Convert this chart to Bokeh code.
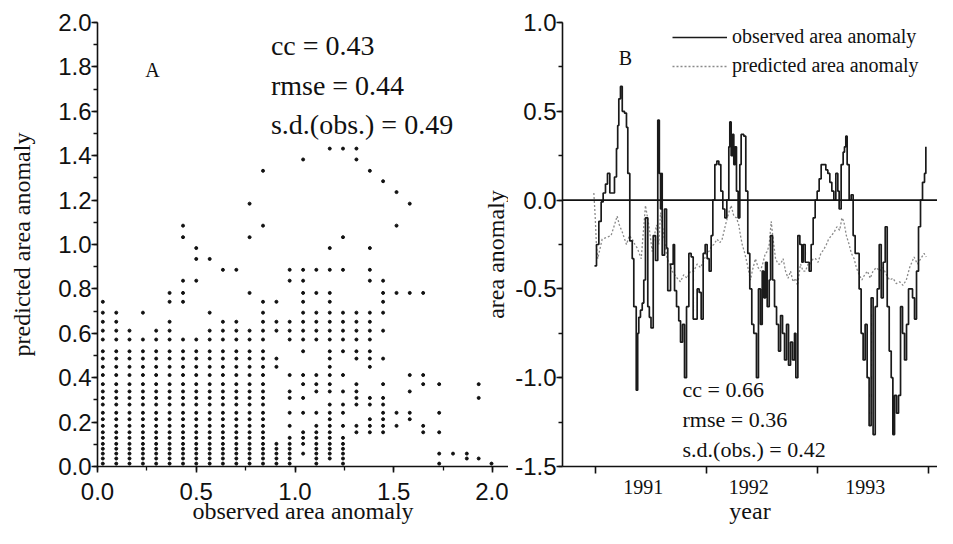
import numpy as np
from bokeh.plotting import figure
from bokeh.layouts import row
from bokeh.models import (Label, Span, SingleIntervalTicker, FixedTicker,
                          NumeralTickFormatter, Legend, LegendItem)
from bokeh.embed import file_html
from bokeh.resources import INLINE

# ---------------- Panel A data (scatter on a grid) ----------------
pred_levels = [0.013, 0.036, 0.058, 0.080, 0.102, 0.129, 0.154, 0.183, 0.213,
               0.242, 0.279, 0.309, 0.338, 0.371, 0.412, 0.449, 0.486, 0.519,
               0.572, 0.612, 0.652, 0.693, 0.742]

obs_cols = [0.027, 0.095, 0.162, 0.230, 0.297, 0.365, 0.433, 0.500, 0.568,
            0.635, 0.703, 0.770, 0.838, 0.906, 0.973, 1.041, 1.108, 1.176,
            1.243, 1.311, 1.379, 1.446, 1.514, 1.581, 1.649, 1.730, 1.800,
            1.870, 1.930, 1.995]

pred_cols = [
    pred_levels[:23],
    pred_levels[:22],
    pred_levels[:20],
    pred_levels[:19] + [0.693],
    pred_levels[:20],
    pred_levels[:21] + [0.742, 0.782],
    pred_levels[:19] + [0.742, 0.782, 0.837, 1.033, 1.085],
    pred_levels[:19] + [0.837, 0.935, 0.984],
    pred_levels[:20] + [0.693, 0.935],
    pred_levels[:21] + [0.886],
    pred_levels[:21] + [0.886],
    pred_levels[:20] + [0.782, 1.033, 1.184],
    pred_levels[:23] + [1.085, 1.332],
    [0.013, 0.036, 0.058, 0.080, 0.102, 0.449, 0.486, 0.612, 0.652, 0.742],
    [0.013, 0.036, 0.058, 0.080, 0.102, 0.129, 0.183, 0.242, 0.309, 0.338,
     0.412, 0.572, 0.612, 0.652, 0.837, 0.886],
    [0.058, 0.102, 0.129, 0.154, 0.242, 0.309, 0.371, 0.412, 0.519, 0.572,
     0.612, 0.652, 0.693, 0.742, 0.782, 0.837, 0.886, 1.383],
    [0.013, 0.036, 0.058, 0.080, 0.102, 0.129, 0.154, 0.183, 0.242, 0.338,
     0.371, 0.412, 0.572, 0.612, 0.652, 0.693, 0.782, 0.886],
    [0.036, 0.058, 0.080, 0.102, 0.129, 0.154, 0.183, 0.213, 0.242, 0.279,
     0.338, 0.371, 0.412, 0.449, 0.486, 0.519, 0.572, 0.612, 0.652, 0.693,
     0.742, 0.782, 0.886, 0.984, 1.432],
    [0.013, 0.036, 0.058, 0.080, 0.102, 0.129, 0.183, 0.242, 0.279, 0.338,
     0.412, 0.519, 0.572, 0.612, 0.652, 0.693, 0.886, 1.033, 1.432],
    [0.154, 0.183, 0.279, 0.309, 0.338, 0.371, 0.486, 0.519, 0.572, 0.612,
     0.652, 0.693, 1.383, 1.432],
    [0.154, 0.183, 0.213, 0.279, 0.309, 0.449, 0.486, 0.519, 0.572, 0.612,
     0.652, 0.693, 0.837, 0.886, 0.984, 1.332],
    [0.154, 0.183, 0.213, 0.242, 0.279, 0.309, 0.371, 0.486, 0.612, 0.693,
     0.742, 0.782, 0.837, 1.285],
    [0.183, 0.242, 0.782, 1.085, 1.236],
    [0.213, 0.242, 0.338, 0.412, 0.782, 1.184],
    [0.154, 0.183, 0.371, 0.412, 0.782],
    [0.013, 0.058, 0.154, 0.242, 0.371],
    [0.058],
    [0.036, 0.058],
    [0.036, 0.309, 0.371],
    [0.013],
]

stats_a = ["cc = 0.43", "rmse = 0.44", "s.d.(obs.) = 0.49"]
stats_a_y = [1.895, 1.715, 1.540]

# ---------------- Panel B data (time series) ----------------
obs_year = [1990.491, 1990.509, 1990.530, 1990.551, 1990.569, 1990.590, 1990.608,
            1990.629, 1990.650, 1990.671, 1990.689, 1990.700, 1990.710, 1990.725,
            1990.741, 1990.761, 1990.779, 1990.791, 1990.809, 1990.831, 1990.845,
            1990.867, 1990.880, 1990.890, 1990.905, 1990.921, 1990.935, 1990.950,
            1990.971, 1990.985, 1991.000, 1991.020, 1991.041, 1991.061, 1991.075,
            1991.086, 1991.095, 1991.101, 1991.122, 1991.140, 1991.151, 1991.176,
            1991.200, 1991.212, 1991.230, 1991.250, 1991.266, 1991.284, 1991.302,
            1991.320, 1991.341, 1991.362, 1991.380, 1991.401, 1991.416, 1991.434,
            1991.452, 1991.470, 1991.488, 1991.506, 1991.524, 1991.542, 1991.557,
            1991.575, 1991.593, 1991.611, 1991.629, 1991.647, 1991.665, 1991.683,
            1991.701, 1991.710, 1991.722, 1991.734, 1991.746, 1991.758, 1991.770,
            1991.785, 1991.800, 1991.812, 1991.836, 1991.854, 1991.872, 1991.890,
            1991.908, 1991.926, 1991.950, 1991.968, 1991.986, 1992.002, 1992.017,
            1992.032, 1992.047, 1992.065, 1992.077, 1992.095, 1992.113, 1992.131,
            1992.149, 1992.167, 1992.185, 1992.203, 1992.221, 1992.239, 1992.257,
            1992.275, 1992.293, 1992.305, 1992.323, 1992.341, 1992.359, 1992.371,
            1992.389, 1992.407, 1992.425, 1992.443, 1992.461, 1992.479, 1992.497,
            1992.515, 1992.533, 1992.557, 1992.575, 1992.593, 1992.611, 1992.629,
            1992.647, 1992.665, 1992.683, 1992.695, 1992.713, 1992.731, 1992.743,
            1992.755, 1992.767, 1992.785, 1992.803, 1992.821, 1992.839, 1992.857,
            1992.875, 1992.893, 1992.911, 1992.929, 1992.947, 1992.965, 1992.983,
            1993.001, 1993.020, 1993.038, 1993.056, 1993.074, 1993.092, 1993.110,
            1993.128, 1993.146, 1993.164, 1993.179, 1993.194, 1993.212, 1993.230,
            1993.248, 1993.266, 1993.284, 1993.302, 1993.320, 1993.338, 1993.356,
            1993.374, 1993.392, 1993.410, 1993.428, 1993.446, 1993.464, 1993.476]
obs_val = [-0.37, -0.25, -0.12, -0.01, 0.04, 0.09, 0.15,
           0.04, 0.04, 0.13, 0.29, 0.42, 0.57, 0.64,
           0.50, 0.49, 0.41, 0.15, -0.23, -0.33, -0.60,
           -1.07, -0.75, -0.66, -0.62, -0.58, -0.45, -0.10,
           -0.60, -0.66, -0.72, -0.20, -0.34, 0.45, 0.15,
           -0.05, 0.15, -0.31, -0.05, -0.27, -0.51, -0.36,
           -0.25, -0.51, -0.60, -0.68, -0.80, -0.70, -1.00,
           -0.60, -0.30, -0.32, -0.67, -0.67, -0.50, -0.52,
           -0.67, -0.30, -0.25, -0.33, -0.40, -0.20, 0.00,
           0.20, 0.22, 0.20, 0.05, -0.05, -0.10, 0.00,
           0.30, 0.44, 0.25, 0.37, 0.20, 0.30, 0.05,
           -0.10, 0.20, 0.37, 0.36, 0.05, -0.30, -0.50,
           -0.70, -0.75, -1.00, -0.50, -0.70, -0.40, -0.55,
           -0.35, -0.60, -0.45, -0.20, -0.45, -0.60, -0.70,
           -0.85, -0.65, -0.75, -0.90, -0.70, -0.93, -0.80,
           -0.90, -0.75, -1.00, -0.20, -0.25, -0.35, -0.25,
           -0.35, -0.35, -0.40, -0.25, -0.10, 0.00, 0.05,
           0.12, 0.20, 0.20, 0.17, 0.15, 0.10, 0.05,
           0.00, 0.15, 0.05, -0.05, 0.20, 0.27, 0.30,
           0.36, 0.20, 0.00, 0.03, -0.20, -0.30, -0.30,
           -0.50, -0.75, -0.90, -0.70, -1.00, -1.27, -0.55,
           -1.32, -0.60, -0.50, -0.25, -0.55, -0.35, -0.15,
           -0.60, -0.85, -1.00, -1.32, -1.10, -1.20, -1.10,
           -0.60, -0.75, -0.90, -0.70, -0.50, -0.50, -0.55,
           -0.67, -0.40, -0.15, 0.00, 0.10, 0.15, 0.30]

pred_year = [1990.485, 1990.497, 1990.508, 1990.520, 1990.560, 1990.640, 1990.671,
             1990.695, 1990.715, 1990.741, 1990.779, 1990.805, 1990.831, 1990.855,
             1990.876, 1990.912, 1990.950, 1990.980, 1991.011, 1991.030, 1991.050,
             1991.070, 1991.086, 1991.115, 1991.146, 1991.170, 1991.191, 1991.236,
             1991.265, 1991.295, 1991.325, 1991.356, 1991.385, 1991.416, 1991.446,
             1991.476, 1991.500, 1991.521, 1991.545, 1991.566, 1991.596, 1991.620,
             1991.641, 1991.671, 1991.701, 1991.722, 1991.746, 1991.770, 1991.791,
             1991.806, 1991.822, 1991.845, 1991.867, 1991.896, 1991.912, 1991.941,
             1991.965, 1991.986, 1992.010, 1992.030, 1992.047, 1992.065, 1992.083,
             1992.100, 1992.122, 1992.145, 1992.167, 1992.190, 1992.212, 1992.235,
             1992.257, 1992.280, 1992.302, 1992.320, 1992.347, 1992.370, 1992.392,
             1992.415, 1992.437, 1992.460, 1992.482, 1992.505, 1992.530, 1992.555,
             1992.580, 1992.600, 1992.625, 1992.650, 1992.675, 1992.700, 1992.720,
             1992.737, 1992.760, 1992.785, 1992.805, 1992.830, 1992.850, 1992.875,
             1992.900, 1992.925, 1992.950, 1992.975, 1993.000, 1993.030, 1993.060,
             1993.090, 1993.120, 1993.150, 1993.180, 1993.210, 1993.240, 1993.270,
             1993.300, 1993.330, 1993.350, 1993.370, 1993.400, 1993.430, 1993.460,
             1993.480]
pred_val = [0.04, -0.09, -0.25, -0.33, -0.22, -0.20, -0.14,
            -0.09, -0.14, -0.18, -0.25, -0.20, -0.22, -0.25,
            -0.27, -0.33, -0.03, -0.14, -0.29, -0.20, -0.14,
            -0.25, -0.07, -0.20, -0.33, -0.36, -0.40, -0.44,
            -0.46, -0.42, -0.44, -0.40, -0.40, -0.36, -0.38,
            -0.34, -0.30, -0.29, -0.26, -0.25, -0.22, -0.24,
            -0.22, -0.14, -0.07, -0.03, -0.09, -0.10, -0.14,
            -0.20, -0.25, -0.30, -0.36, -0.45, -0.40, -0.33,
            -0.38, -0.40, -0.35, -0.30, -0.29, -0.25, -0.12,
            -0.22, -0.33, -0.36, -0.36, -0.33, -0.40, -0.44,
            -0.40, -0.46, -0.44, -0.48, -0.36, -0.40, -0.40,
            -0.36, -0.36, -0.33, -0.33, -0.35, -0.30, -0.28,
            -0.25, -0.22, -0.20, -0.18, -0.15, -0.17, -0.10,
            -0.12, -0.20, -0.25, -0.30, -0.33, -0.38, -0.42,
            -0.45, -0.42, -0.40, -0.44, -0.40, -0.38, -0.40,
            -0.38, -0.42, -0.45, -0.44, -0.47, -0.46, -0.48,
            -0.45, -0.38, -0.35, -0.32, -0.36, -0.33, -0.30,
            -0.32]

year_tick_pos = [1990.93, 1991.88, 1992.93]
year_labels = ["1991", "1992", "1993"]
year_bounds = [1990.5, 1991.5, 1992.5, 1993.5]

stats_b = ["cc = 0.66", "rmse = 0.36", "s.d.(obs.) = 0.42"]
stats_b_y = [-1.067, -1.238, -1.402]

SERIF = "Liberation Serif"
SANS = "Liberation Sans"
INK = "#111111"


def style_axes(p):
    for ax in (p.xaxis[0], p.yaxis[0]):
        ax.axis_line_width = 1.6
        ax.axis_line_color = INK
        ax.major_tick_line_color = INK
        ax.major_tick_line_width = 1.6
        ax.minor_tick_line_color = INK
        ax.minor_tick_line_width = 1.3
        ax.major_tick_in = 0
        ax.major_tick_out = 6
        ax.minor_tick_in = 0
        ax.minor_tick_out = 4
        ax.major_label_text_font = SANS
        ax.major_label_text_font_size = "24px"
        ax.major_label_text_color = INK
        ax.axis_label_text_font = SERIF
        ax.axis_label_text_font_size = "24px"
        ax.axis_label_text_font_style = "normal"
        ax.axis_label_text_color = INK
    p.grid.visible = False
    p.outline_line_color = None
    p.background_fill_color = "white"
    p.border_fill_color = "white"


def label(p, x, y, text, size, angle=0.0, align="left", baseline="middle"):
    p.add_layout(Label(x=x, y=y, text=text, angle=angle, text_font=SERIF,
                       text_font_size=size, text_color=INK, text_align=align,
                       text_baseline=baseline))


# ---------------- Panel A ----------------
pa = figure(width=508, height=528, x_range=(0, 2.081), y_range=(0, 2.0),
            output_backend="svg", toolbar_location=None,
            min_border_left=97, min_border_right=0, min_border_top=22,
            min_border_bottom=62)
style_axes(pa)
pa.xaxis.ticker = SingleIntervalTicker(interval=0.5, num_minor_ticks=2)
pa.yaxis.ticker = SingleIntervalTicker(interval=0.2, num_minor_ticks=2)
pa.xaxis.formatter = NumeralTickFormatter(format="0.0")
pa.yaxis.formatter = NumeralTickFormatter(format="0.0")
pa.xaxis.major_label_standoff = 10
pa.yaxis.major_label_standoff = 0
pa.xaxis.axis_label = "observed area anomaly"
pa.xaxis.axis_label_standoff = -5
pa.yaxis.axis_label = "predicted area anomaly"
pa.yaxis.axis_label_standoff = 20

xs, ys = [], []
for cx, col in zip(obs_cols, pred_cols):
    for v in col:
        xs.append(cx)
        ys.append(v)
pa.scatter(xs, ys, size=3, color=INK, marker="circle")

label(pa, 0.278, 1.784, "A", "20px", align="center")
for t, yy in zip(stats_a, stats_a_y):
    label(pa, 0.878, yy, t, "28px")
# y-axis title of panel B sits in the gap between the panels
label(pa, 2.02, 0.955, "area anomaly", "24px", angle=np.pi / 2, align="center")

# ---------------- Panel B ----------------
pb = figure(width=429, height=528, x_range=(1990.2027, 1993.581),
            y_range=(-1.5, 1.0), output_backend="svg", toolbar_location=None,
            min_border_left=54, min_border_right=0, min_border_top=20,
            min_border_bottom=62)
style_axes(pb)
pb.yaxis.ticker = SingleIntervalTicker(interval=0.5, num_minor_ticks=2)
pb.yaxis.formatter = NumeralTickFormatter(format="0.0")
pb.yaxis.major_label_standoff = 0
pb.xaxis.ticker = FixedTicker(ticks=year_tick_pos, minor_ticks=year_bounds)
pb.xaxis.major_label_overrides = dict(zip(year_tick_pos, year_labels))
pb.xaxis.major_tick_out = 0
pb.xaxis.minor_tick_out = 7
pb.xaxis.minor_tick_line_width = 1.6
pb.xaxis.major_label_text_font = SERIF
pb.xaxis.major_label_text_font_size = "20px"
pb.xaxis.major_label_standoff = 6
pb.xaxis.axis_label = "year"
pb.xaxis.axis_label_standoff = 1

pb.add_layout(Span(location=0, dimension="width", line_color=INK, line_width=1.6))
r_pred = pb.line(pred_year, pred_val, line_color="#8a8a8a", line_width=1.3,
                 line_dash="2 2")
r_obs = pb.step(obs_year, obs_val, mode="after", line_color="#1a1a1a",
                line_width=1.7)

legend = Legend(items=[LegendItem(label="observed area anomaly", renderers=[r_obs]),
                       LegendItem(label="predicted area anomaly", renderers=[r_pred])],
                location=(110, 389), orientation="vertical",
                glyph_width=55, glyph_height=20, label_height=20,
                label_standoff=5, spacing=6, padding=0, margin=0,
                border_line_color=None, background_fill_alpha=0,
                label_text_font=SERIF, label_text_font_size="20px",
                label_text_color=INK)
pb.add_layout(legend)

label(pb, 1990.77, 0.80, "B", "20px", align="center")
for t, yy in zip(stats_b, stats_b_y):
    label(pb, 1991.284, yy, t, "22px")

layout = row(pa, pb)
open("out.html", "w").write(file_html(layout, INLINE))
